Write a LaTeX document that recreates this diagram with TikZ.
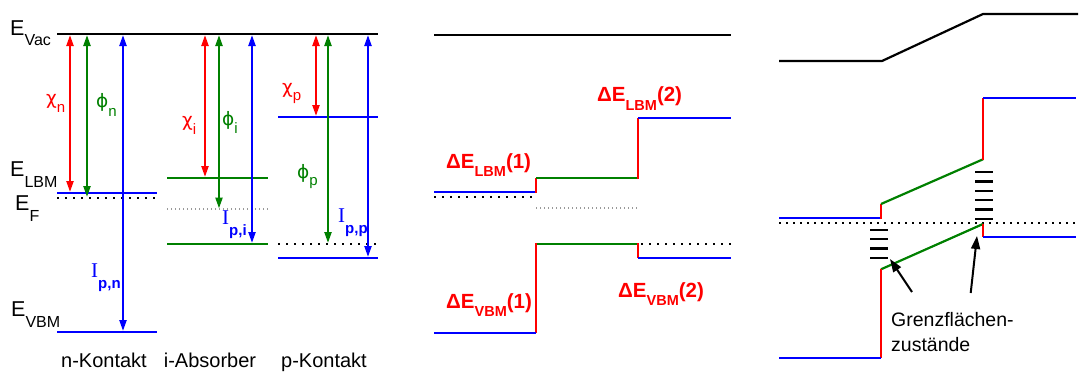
\documentclass[tikz,border=0pt]{standalone}
\usepackage{fontspec}
\setmainfont{Liberation Sans}
\newfontfamily\serifI{Liberation Serif}
\newfontfamily\greekf{DejaVu Sans}
\usetikzlibrary{arrows.meta}
\definecolor{cred}{RGB}{255,0,0}
\definecolor{cgreen}{RGB}{0,128,0}
\definecolor{cblue}{RGB}{0,0,255}
\newcommand\bigE[2]{\fontsize{21.5}{21.5}\selectfont E\raisebox{-#1}{\fontsize{16}{16}\selectfont #2}}
\newcommand\greekl[3]{{\greekf\fontsize{18.5}{18.5}\selectfont #1}\raisebox{-#3}{\fontsize{15}{15}\selectfont #2}}
\newcommand\ionl[1]{{\serifI\fontsize{21}{21}\selectfont I}\raisebox{-11pt}{\fontsize{15}{15}\selectfont\bfseries #1}}
\newcommand\deltaE[2]{{\bfseries\fontsize{20.5}{20.5}\selectfont ΔE\raisebox{-8.5pt}{\fontsize{14.5}{14.5}\selectfont #1}(#2)}}
\begin{document}
\begin{tikzpicture}[x=1pt,y=-1pt,
  level/.style={line width=2.2pt},
  dotblack/.style={black,line width=1.8pt,dash pattern=on 1.8pt off 6.2pt},
  dotgray/.style={gray!80,line width=1.1pt,dash pattern=on 1.1pt off 2.9pt},
  darr/.style={line width=2.2pt,{Triangle[length=11pt,width=7pt]}-{Triangle[length=11pt,width=7pt]}},
  note/.style={line width=2pt,-{Triangle[length=13pt,width=9pt]}},
  statel/.style={line width=2.4pt},
  lab/.style={inner sep=0pt,anchor=base west},
  bottoml/.style={inner sep=0pt,anchor=base,font=\fontsize{20}{20}\selectfont}]
\useasboundingbox (0,0) rectangle (1079,372);

% ---------- left panel ----------
\draw[level] (57,34) -- (378,34);
\draw[level,cblue] (57,193) -- (157,193);
\draw[dotblack] (57,198) -- (157,198);
\draw[level,cblue] (57,332) -- (157,332);
\draw[level,cgreen] (167,178) -- (268,178);
\draw[dotgray] (167,209) -- (268,209);
\draw[level,cgreen] (167,244) -- (268,244);
\draw[level,cblue] (278,117) -- (378,117);
\draw[dotblack] (278,244) -- (378,244);
\draw[level,cblue] (278,258) -- (378,258);

\draw[darr,cred] (70,35) -- (70,192);
\draw[darr,cgreen] (87,35) -- (87,197);
\draw[darr,cblue] (123,35) -- (123,331);
\draw[darr,cred] (205,35) -- (205,177);
\draw[darr,cgreen] (219,35) -- (219,208.5);
\draw[darr,cblue] (252,35) -- (252,243);
\draw[darr,cred] (316,35) -- (316,116);
\draw[darr,cgreen] (328,35) -- (328,243);
\draw[darr,cblue] (368,35) -- (368,257);

\node[lab] (evac) at (10,35) {\bigE{10pt}{Vac}};
\node[lab] (elbm) at (10,176.7) {\bigE{10.5pt}{LBM}};
\node[lab] (ef) at (15,210) {\bigE{11.5pt}{F}};
\node[lab] (evbm) at (11,316.7) {\bigE{11pt}{VBM}};

\node[lab,cred] (chin) at (46,104) {\greekl{χ}{n}{8pt}};
\node[lab,cgreen] (phin) at (96,107) {\greekl{ϕ}{n}{9pt}};
\node[lab,cred] (chii) at (182,126) {\greekl{χ}{i}{8pt}};
\node[lab,cgreen] (phii) at (222,125) {\greekl{ϕ}{i}{8pt}};
\node[lab,cred] (chip) at (282,93) {\greekl{χ}{p}{7pt}};
\node[lab,cgreen] (phip) at (297,178) {\greekl{ϕ}{p}{7pt}};
\node[lab,cblue] (ipn) at (91,277) {\ionl{p,n}};
\node[lab,cblue] (ipi) at (222,224) {\ionl{p,i}};
\node[lab,cblue] (ipp) at (338,222) {\ionl{p,p}};

\node[bottoml] (nk) at (104,367) {n-Kontakt};
\node[bottoml] (ia) at (210,367) {i-Absorber};
\node[bottoml] (pk) at (324,367) {p-Kontakt};

% ---------- middle panel ----------
\draw[level] (434,35) -- (731,35);
\draw[level,cblue] (434,192) -- (536,192);
\draw[dotblack] (434,197) -- (536,197);
\draw[level,cred] (536,193) -- (536,178);
\draw[level,cgreen] (536,178) -- (638,178);
\draw[level,cred] (638,179) -- (638,118);
\draw[level,cblue] (638,118) -- (731,118);
\draw[dotgray] (536,208) -- (638,208);
\draw[level,cgreen] (536,244) -- (638,244);
\draw[dotblack] (641,244) -- (731,244);
\draw[level,cred] (638,243) -- (638,258);
\draw[level,cblue] (638,258) -- (731,258);
\draw[level,cred] (536,243) -- (536,333);
\draw[level,cblue] (434,333) -- (536,333);

\node[lab,cred] (dl1) at (446,168.3) {\deltaE{LBM}{1}};
\node[lab,cred] (dl2) at (597,101.7) {\deltaE{LBM}{2}};
\node[lab,cred] (dv1) at (446,308) {\deltaE{VBM}{1}};
\node[lab,cred] (dv2) at (618,297.3) {\deltaE{VBM}{2}};

% ---------- right panel ----------
\draw[level] (779,61) -- (882,61) -- (983,14) -- (1078,14);
\draw[dotblack,dash pattern=on 1.8pt off 5.2pt] (779,223) -- (1076,223);
\draw[level,cblue] (779,218) -- (881,218);
\draw[level,cred] (881,219) -- (881,204);
\draw[level,cgreen] (881,204) -- (983,159.3);
\draw[level,cred] (983,160) -- (983,98);
\draw[level,cblue] (983,98) -- (1076,98);
\draw[level,cgreen] (881,269.3) -- (983,224);
\draw[level,cred] (983,223.5) -- (983,237);
\draw[level,cblue] (983,237) -- (1076,237);
\draw[level,cred] (881,269.3) -- (881,358);
\draw[level,cblue] (779,358) -- (881,358);

\foreach \yy in {172,181.5,191,200,209.5,219}
  \draw[statel] (975,\yy) -- (992.7,\yy);
\foreach \yy in {230,239,248.5,258}
  \draw[statel] (870,\yy) -- (888.3,\yy);

\coordinate (a1t) at (912,292);
\coordinate (a1h) at (890,259);
\coordinate (a2t) at (970.7,293);
\coordinate (a2h) at (977,236);
\draw[note] (a1t) -- (a1h);
\draw[note] (a2t) -- (a2h);

\node[lab,font=\fontsize{19.5}{19.5}\selectfont] (gz1) at (891,326.7) {Grenzflächen-};
\node[lab,font=\fontsize{19.5}{19.5}\selectfont] (gz2) at (891,351.7) {zustände};
\end{tikzpicture}
\end{document}
